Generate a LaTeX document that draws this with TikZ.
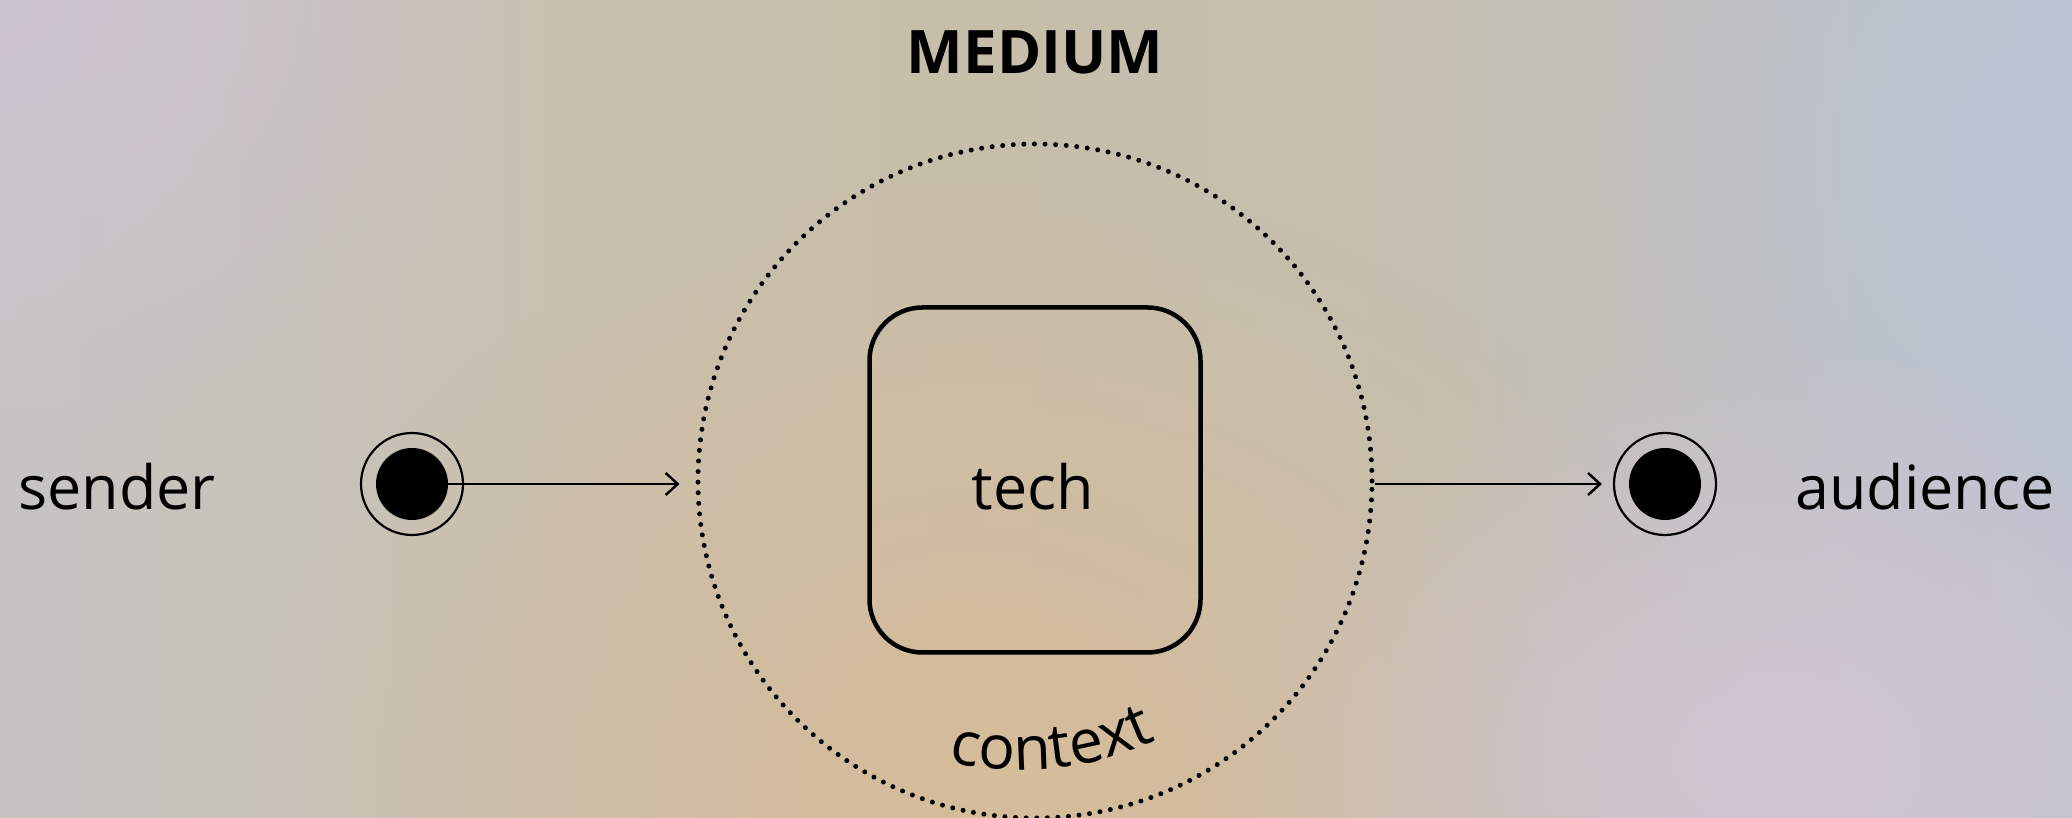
\documentclass[tikz,border=0pt]{standalone}
\usepackage{fontspec}
\setmainfont{Open Sans}
\usetikzlibrary{arrows.meta,decorations.text,fadings}
\definecolor{bgA}{HTML}{C6C4C2}
\definecolor{bgB}{HTML}{C9C0B0}
\definecolor{bgC}{HTML}{C7BEA9}
\definecolor{bgD}{HTML}{C4BFB2}
\definecolor{bgE}{HTML}{BDC3CF}
\definecolor{warm}{HTML}{D6BC9A}
\definecolor{lav}{HTML}{CEC4D2}
\definecolor{pink}{HTML}{D2C6D4}
\definecolor{blue}{HTML}{BAC4D4}
\pgfdeclarehorizontalshading{bgshade}{100bp}{color(0bp)=(bgA); color(25bp)=(bgA); color(40bp)=(bgB); color(48bp)=(bgC); color(60bp)=(bgD); color(75bp)=(bgE); color(100bp)=(bgE)}
\tikzfading[name=softblob, inner color=transparent!0, outer color=transparent!100]
\tikzset{
  labeltext/.style={font=\fontsize{61}{72}\selectfont, inner sep=0pt, anchor=base},
  titletext/.style={font=\bfseries\fontsize{60}{72}\selectfont, inner sep=0pt, anchor=base},
  ring/.style={circle, draw=black, line width=2.2pt, minimum size=102pt, inner sep=0pt},
  disc/.style={circle, fill=black, minimum size=72pt, inner sep=0pt},
  ctxcircle/.style={circle, draw=black, line width=5pt, line cap=round, dash pattern=on 0pt off 10.6pt, minimum size=674pt, inner sep=0pt},
  techbox/.style={draw=black, line width=4.5pt, rounded corners=53pt, minimum width=331pt, minimum height=345pt, inner sep=0pt},
  flow/.style={line width=2.5pt, -{Straight Barb[length=12pt,width=22pt,line width=2.5pt]}}
}
\begin{document}
\begin{tikzpicture}[x=1pt,y=1pt]
\useasboundingbox (0,0) rectangle (2072,818);
\begin{scope}
\clip (0,0) rectangle (2072,818);
\shade[shading=bgshade] (0,0) rectangle (2072,818);
\fill[warm, path fading=softblob] (1000,20) ellipse[x radius=750, y radius=620];
\fill[lav, path fading=softblob] (0,818) ellipse[x radius=520, y radius=460];
\fill[blue, path fading=softblob] (2072,660) ellipse[x radius=480, y radius=520];
\fill[pink, path fading=softblob] (1780,60) ellipse[x radius=560, y radius=420];
\end{scope}

\node[titletext] (title) at (1035,744) {MEDIUM};

\node[ctxcircle] (ctx) at (1035,337) {};
\node[techbox] (tech) at (1035,338) {};
\node[labeltext] (techlabel) at (1033,308) {tech};

\node[ring] (sender) at (412,334) {};
\node[disc] (senderdot) at (sender.center) {};
\node[ring] (audience) at (1665,334) {};
\node[disc] (audiencedot) at (audience.center) {};

\node[labeltext] (senderlabel) at (117,308) {sender};
\node[labeltext] (audiencelabel) at (1925,308) {audience};

\draw[flow, shorten >=16pt] (senderdot.east) -- (senderdot.east -| ctx.west);
\draw[flow, shorten >=11pt] (ctx.east |- audience) -- (audience.west);

\path[decorate, decoration={text along path, text align=center,
  text={|\fontsize{61}{72}\selectfont|context}}]
  (1020,378) ++(245:330) arc[start angle=245, end angle=307, radius=330];
\end{tikzpicture}
\end{document}
